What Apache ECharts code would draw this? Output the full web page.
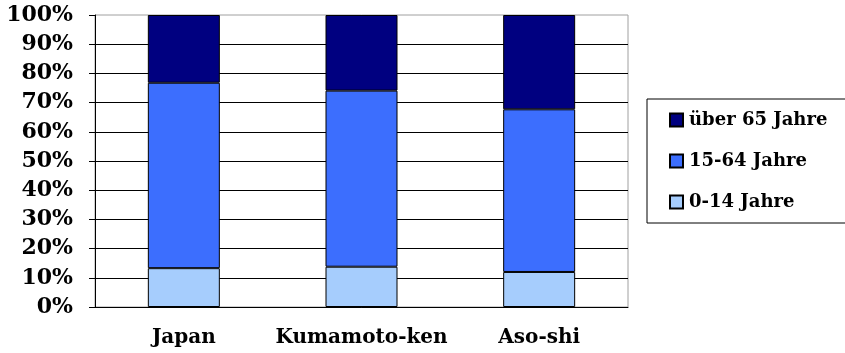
<!DOCTYPE html>
<html>
<head>
<meta charset="utf-8">
<script src="https://cdn.jsdelivr.net/npm/echarts@6/dist/echarts.min.js"></script>
<style>
html,body{margin:0;padding:0;background:#fff;}
#main{width:845px;height:353px;}
</style>
</head>
<body>
<div id="main"></div>
<script>
// Altersstruktur (Anteile in %)
var categories = ['Japan', 'Kumamoto-ken', 'Aso-shi'];
var age0to14 = [13.3, 13.8, 12.0];
var age15to64 = [63.5, 60.3, 55.7];
var age65plus = [23.2, 25.9, 32.3];
var yTicks = [0, 10, 20, 30, 40, 50, 60, 70, 80, 90, 100];

var chart = echarts.init(document.getElementById('main'));
var fnt = '"DejaVu Serif", "Liberation Serif", serif';

function mkSeries(name, data, color) {
    return {
        name: name,
        type: 'bar',
        stack: 'total',
        barWidth: 72,
        data: data,
        itemStyle: { color: color, borderColor: '#000', borderWidth: 1 }
    };
}

chart.setOption({
    animation: false,
    textStyle: { fontFamily: fnt },
    grid: { left: 95, right: 217, top: 15, bottom: 46, show: true, borderColor: '#a0a0a0', borderWidth: 1 },
    legend: {
        orient: 'vertical',
        left: 647,
        top: 99,
        padding: [12, 40, 12, 22],
        itemGap: 23,
        itemWidth: 13,
        itemHeight: 13,
        icon: 'rect',
        borderColor: '#000',
        borderWidth: 1,
        data: ['über 65 Jahre', '15-64 Jahre', '0-14 Jahre'],
        textStyle: { fontFamily: fnt, fontWeight: 'bold', fontSize: 18, color: '#000', padding: [0, 0, 0, 1] }
    },
    xAxis: {
        type: 'category',
        data: categories,
        axisLine: { lineStyle: { color: '#000' } },
        axisTick: { length: 6, lineStyle: { color: '#000' } },
        axisLabel: { interval: 0, margin: 21, fontFamily: fnt, fontWeight: 'bold', fontSize: 20, color: '#000' }
    },
    yAxis: {
        type: 'value',
        min: yTicks[0],
        max: yTicks[yTicks.length - 1],
        interval: 10,
        axisLine: { show: true, lineStyle: { color: '#000' } },
        axisTick: { show: true, length: 6, lineStyle: { color: '#000' } },
        splitLine: { showMaxLine: false, lineStyle: { color: '#000', width: 1 } },
        axisLabel: { margin: 22, fontFamily: fnt, fontWeight: 'bold', fontSize: 22, color: '#000', formatter: '{value}%' }
    },
    series: [
        mkSeries('0-14 Jahre', age0to14, '#a6cdfd'),
        mkSeries('15-64 Jahre', age15to64, '#3c6efe'),
        mkSeries('über 65 Jahre', age65plus, '#000080')
    ]
});
</script>
</body>
</html>
